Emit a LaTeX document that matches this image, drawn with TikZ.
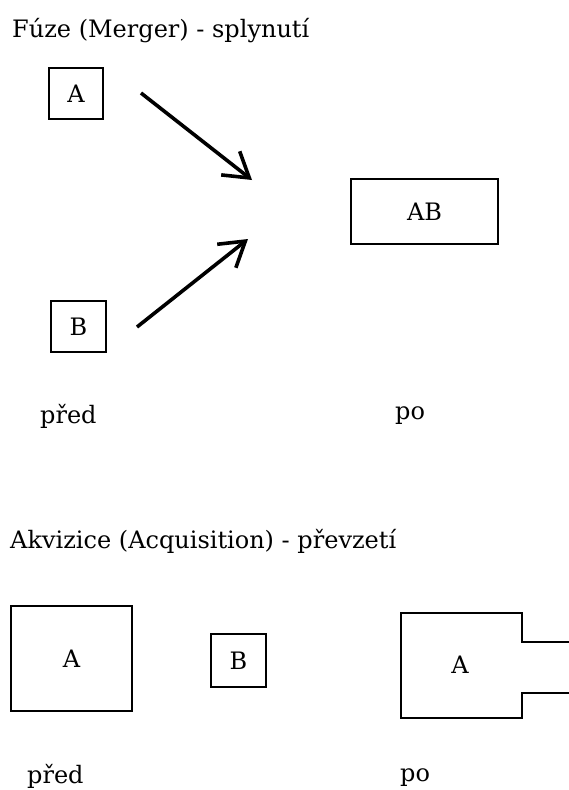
\documentclass[tikz,border=0pt]{standalone}
\usepackage{fontspec}
\setmainfont{DejaVu Serif}
\usetikzlibrary{arrows.meta}
\tikzset{
  box/.style={draw, line width=1.6pt, inner sep=0pt, rectangle},
  txt/.style={inner sep=0pt, font=\fontsize{24}{28}\selectfont},
  lbl/.style={inner sep=0pt, anchor=base west, font=\fontsize{24}{28}\selectfont},
  bigarrow/.style={line width=3.6pt, -{Straight Barb[length=24pt,width=30pt,line width=3.6pt]}}
}
\begin{document}
\begin{tikzpicture}[x=1pt,y=-1pt]
\useasboundingbox[fill=white] (0,0) rectangle (568,790);
% --- Fuze
\node[lbl] (t1) at (12,37) {Fúze (Merger) - splynutí};
\node[box, minimum width=54pt, minimum height=51pt, txt] (a1) at (76,93.5) {A};
\node[box, minimum width=55pt, minimum height=51pt, txt] (b1) at (78.5,326.5) {B};
\node[box, minimum width=147pt, minimum height=65pt, txt] (ab) at (424.5,211.5) {AB};
\coordinate (s1) at (141,93);
\coordinate (e1) at (252,180);
\coordinate (s2) at (137,327);
\coordinate (e2) at (248,239);
\draw[bigarrow] (s1) -- (e1);
\draw[bigarrow] (s2) -- (e2);
\node[lbl] (pred1) at (40,423) {před};
\node[lbl] (po1) at (395,419) {po};
% --- Akvizice
\node[lbl] (t2) at (10,548) {Akvizice (Acquisition) - převzetí};
\node[box, minimum width=121pt, minimum height=105pt, txt] (a2) at (71.5,658.5) {A};
\node[box, minimum width=55pt, minimum height=53pt, txt] (b2) at (238.5,660.5) {B};
\draw[line width=1.6pt, line join=miter] (570,642) -- (522,642) -- (522,613) -- (401,613) -- (401,718) -- (522,718) -- (522,693) -- (570,693);
\node[txt] (a3) at (460,665) {A};
\node[lbl] (pred2) at (27,783) {před};
\node[lbl] (po2) at (400,781) {po};
\end{tikzpicture}
\end{document}
